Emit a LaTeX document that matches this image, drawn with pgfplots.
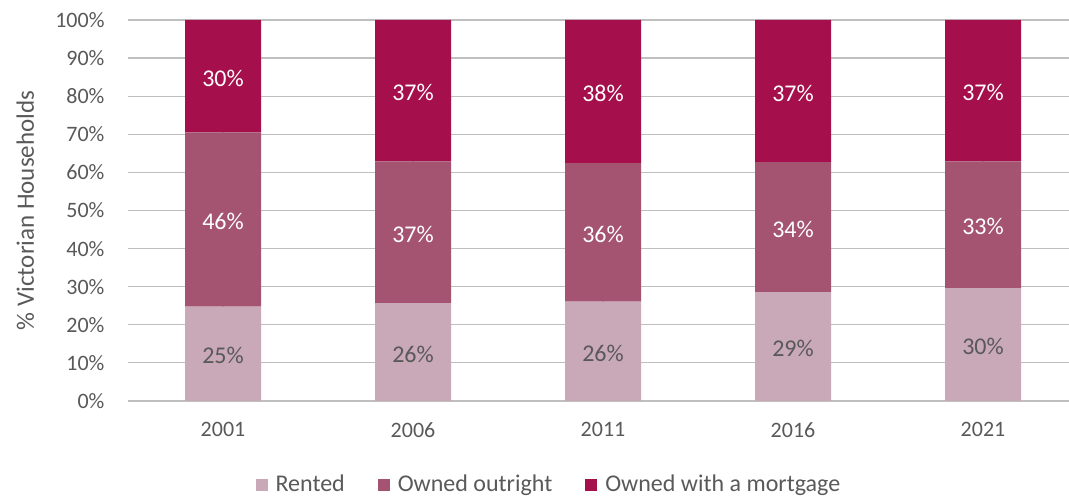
\documentclass[border=0pt]{standalone}
\usepackage{pgfplots}
\pgfplotsset{compat=1.18}
\usepackage{pgfplotstable}
\usepackage{fontspec}
\setmainfont{Carlito}
\definecolor{cRent}{RGB}{201,168,184}
\definecolor{cOwn}{RGB}{164,84,112}
\definecolor{cMort}{RGB}{165,15,75}
\definecolor{txt}{RGB}{89,89,89}
\definecolor{grid}{RGB}{217,217,217}

\pgfplotstableread{
x rent own mort
0 24.8 45.7 29.5
1 25.7 37.2 37.1
2 26.1 36.3 37.6
3 28.6 34.1 37.3
4 29.6 33.3 37.1
}\datatab

\pgfplotstableread{
x y lab
0 12.4 25\%
1 12.85 26\%
2 13.05 26\%
3 14.3 29\%
4 14.8 30\%
}\labrent

\pgfplotstableread{
x y lab
0 47.65 46\%
1 44.3 37\%
2 44.25 36\%
3 45.65 34\%
4 46.25 33\%
}\labown

\pgfplotstableread{
x y lab
0 85.25 30\%
1 81.45 37\%
2 81.2 38\%
3 81.35 37\%
4 81.45 37\%
}\labmort

\newcommand{\fs}{\fontsize{22bp}{26bp}\selectfont}
\newcommand{\fl}{\fontsize{24bp}{28bp}\selectfont}
\begin{document}
\fs
\begin{tikzpicture}[x=1bp,y=1bp]
\useasboundingbox (0,0) rectangle (1069,497);
\begin{axis}[
  at={(128bp,96bp)}, anchor=south west,
  scale only axis, width=950bp, height=381bp,
  ybar stacked, bar width=76bp,
  xmin=-0.5, xmax=4.5, ymin=0, ymax=100,
  xtick={0,1,2,3,4}, xticklabels={2001,2006,2011,2016,2021},
  ytick={0,10,...,100},
  yticklabel={\pgfmathprintnumber{\tick}\%},
  axis line style={draw=none},
  major tick length=0pt,
  ymajorgrids, grid style={grid, line width=1.2bp},
  tick label style={font=\fs, text=txt},
  /pgf/number format/assume math mode=true,
  yticklabel style={xshift=-16bp},
  xticklabel style={yshift=-14bp},
  ylabel={\% Victorian Households},
  ylabel style={at={(axis description cs:-0.108,0.5)}, anchor=center, rotate=0, font=\fontsize{25bp}{29bp}\selectfont, text=txt},
  legend style={at={(axis description cs:0.442,-0.2205)}, anchor=center, draw=none, fill=none, legend columns=3,
    font=\fl, text=txt, nodes={inner sep=0pt},
    /tikz/every odd column/.append style={column sep=8bp},
    /tikz/every even column/.append style={column sep=33bp}},
  legend image code/.code={\fill[#1] (0bp,-6bp) rectangle (12bp,6bp);},
]
\addplot[fill=cRent, draw=none] table[x=x,y=rent] {\datatab};
\addlegendentry{Rented}
\addplot[fill=cOwn, draw=none] table[x=x,y=own] {\datatab};
\addlegendentry{Owned outright}
\addplot[fill=cMort, draw=none] table[x=x,y=mort] {\datatab};
\addlegendentry{Owned with a mortgage}
\end{axis}
\begin{axis}[
  at={(128bp,96bp)}, anchor=south west,
  scale only axis, width=950bp, height=381bp,
  xmin=-0.5, xmax=4.5, ymin=0, ymax=100,
  hide axis,
  point meta=explicit symbolic, nodes near coords,
  nodes near coords style={font=\fl, anchor=center, yshift=-2bp},
]
\addplot[draw=none, mark=none, nodes near coords style={text=txt}]
  table[x=x,y=y,meta=lab] {\labrent};
\addplot[draw=none, mark=none, nodes near coords style={text=white}]
  table[x=x,y=y,meta=lab] {\labown};
\addplot[draw=none, mark=none, nodes near coords style={text=white}]
  table[x=x,y=y,meta=lab] {\labmort};
\end{axis}
\end{tikzpicture}
\end{document}
